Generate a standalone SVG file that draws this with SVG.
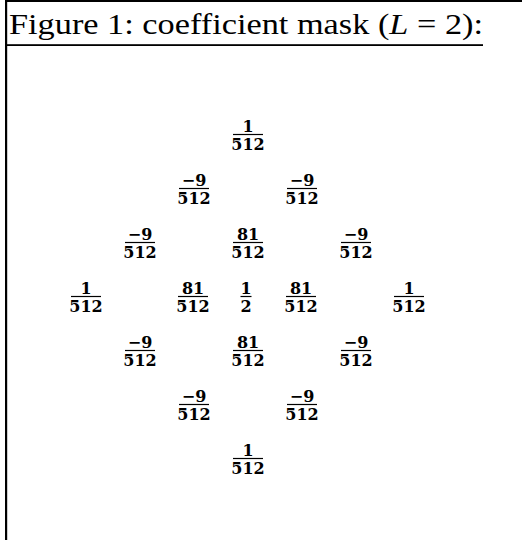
<svg xmlns="http://www.w3.org/2000/svg" width="522" height="540" viewBox="0 0 522 540">
<style>
.t{font-family:"Liberation Serif","Times New Roman",serif;font-size:29px;fill:#000}
.rule{fill:#000}
</style>
<rect id="topline" class="rule" x="5" y="0" width="517" height="2"/>
<rect id="leftline" class="rule" x="5" y="0" width="2.2" height="540"/>
<rect id="underline" class="rule" x="5" y="44.2" width="478" height="1.8"/>
<text id="title" class="t" x="9" y="33.5" textLength="474" lengthAdjust="spacingAndGlyphs">Figure 1: coefficient mask (<tspan font-style="italic">L</tspan> = 2):</text>
<defs>
<g id="f1_512" font-family="DejaVu Serif, serif" font-size="16" font-weight="bold" text-anchor="middle" fill="#000"><text x="0" y="-2.3">1</text><line stroke="#000" stroke-width="1.2" x1="-15" y1="0" x2="15" y2="0"/><text x="0" y="15">512</text></g>
<g id="fm9_512" font-family="DejaVu Serif, serif" font-size="16" font-weight="bold" text-anchor="middle" fill="#000"><text x="0" y="-2.3">−9</text><line stroke="#000" stroke-width="1.2" x1="-15" y1="0" x2="15" y2="0"/><text x="0" y="15">512</text></g>
<g id="f81_512" font-family="DejaVu Serif, serif" font-size="16" font-weight="bold" text-anchor="middle" fill="#000"><text x="0" y="-2.3">81</text><line stroke="#000" stroke-width="1.2" x1="-15" y1="0" x2="15" y2="0"/><text x="0" y="15">512</text></g>
<g id="f1_2" font-family="DejaVu Serif, serif" font-size="16" font-weight="bold" text-anchor="middle" fill="#000"><text x="0" y="-2.3">1</text><line stroke="#000" stroke-width="1.2" x1="-5.5" y1="0" x2="5.5" y2="0"/><text x="0" y="15">2</text></g>
</defs>
<g id="fractions">
<g id="r0c3"><use href="#f1_512" x="248" y="134.5"/></g>
<g id="r1c2"><use href="#fm9_512" x="194" y="188.5"/></g>
<g id="r1c4"><use href="#fm9_512" x="302" y="188.5"/></g>
<g id="r2c1"><use href="#fm9_512" x="140" y="242.5"/></g>
<g id="r2c3"><use href="#f81_512" x="248" y="242.5"/></g>
<g id="r2c5"><use href="#fm9_512" x="356" y="242.5"/></g>
<g id="r3c0"><use href="#f1_512" x="86" y="296.5"/></g>
<g id="r3c2"><use href="#f81_512" x="193" y="296.5"/></g>
<g id="r3c3"><use href="#f1_2" x="246" y="296.5"/></g>
<g id="r3c4"><use href="#f81_512" x="301" y="296.5"/></g>
<g id="r3c6"><use href="#f1_512" x="409" y="296.5"/></g>
<g id="r4c1"><use href="#fm9_512" x="140" y="350.5"/></g>
<g id="r4c3"><use href="#f81_512" x="248" y="350.5"/></g>
<g id="r4c5"><use href="#fm9_512" x="356" y="350.5"/></g>
<g id="r5c2"><use href="#fm9_512" x="194" y="404.5"/></g>
<g id="r5c4"><use href="#fm9_512" x="302" y="404.5"/></g>
<g id="r6c3"><use href="#f1_512" x="248" y="458.5"/></g>
</g>
<g id="connectors"/>
</svg>
